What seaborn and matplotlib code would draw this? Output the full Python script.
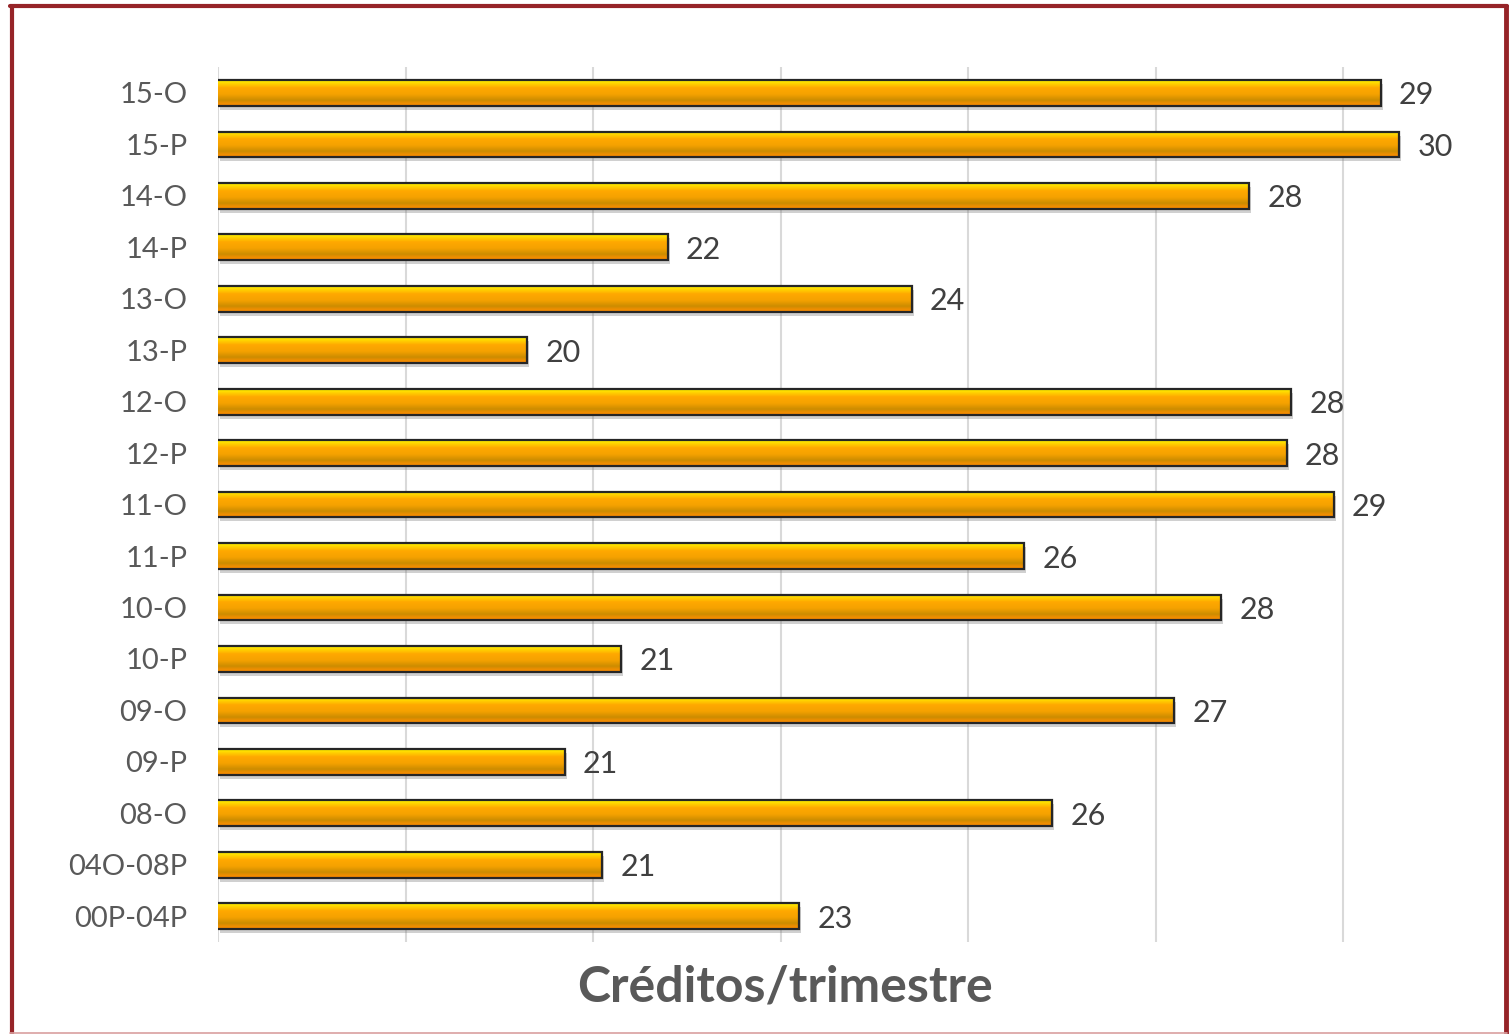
import numpy as np
import pandas as pd
import matplotlib
matplotlib.use('Agg')
import matplotlib.pyplot as plt
import matplotlib.transforms as mtransforms
from matplotlib.colors import LinearSegmentedColormap
from matplotlib.lines import Line2D
from matplotlib.patches import Rectangle
import seaborn as sns

#Data (top to bottom)
periods = ['15-O', '15-P', '14-O', '14-P', '13-O', '13-P', '12-O', '12-P', '11-O',
           '11-P', '10-O', '10-P', '09-O', '09-P', '08-O', '04O-08P', '00P-04P']
creditos = [29.4, 29.6, 28.0, 21.8, 24.4, 20.3, 28.45, 28.4, 28.9,
            25.6, 27.7, 21.3, 27.2, 20.7, 25.9, 21.1, 23.2]
grid_ticks = [17, 19, 21, 23, 25, 27, 29]

df = pd.DataFrame({'Periodo': periods, 'Creditos': creditos})

sns.set_theme(style='white')
plt.rcParams['font.family'] = ['Lato', 'DejaVu Sans']

fig = plt.figure(figsize=(15.1, 10.34), dpi=100)
ax = fig.add_axes([0.1444, 0.089, 0.8456, 0.846])

sns.barplot(data=df, x='Creditos', y='Periodo', orient='h', width=0.5,
            color='#FFA500', ax=ax, zorder=4)

xmin, xmax = 17, 30.62

#Gradient fill and soft shadow for the bars
grad_cmap = LinearSegmentedColormap.from_list('gold', [
    (0.0, '#FFF500'), (0.12, '#FFD400'), (0.3, '#FFA800'), (0.55, '#F5A200'),
    (0.78, '#CC8C00'), (0.9, '#EE8E00'), (1.0, '#FF8C00')])
grad = np.linspace(0, 1, 64).reshape(-1, 1)
shadow_tr = mtransforms.offset_copy(ax.transData, fig=fig, x=2, y=-4, units='dots')
for p in ax.patches:
    x0, y0, w, h = p.get_x(), p.get_y(), p.get_width(), p.get_height()
    ax.add_patch(Rectangle((xmin, y0), x0 + w - xmin, h, transform=shadow_tr,
                           facecolor='#7a7a7a', edgecolor='none', alpha=0.35, zorder=2))
    im = ax.imshow(grad, cmap=grad_cmap, aspect='auto',
                   extent=(xmin, x0 + w, y0 + h, y0), zorder=3, interpolation='bilinear')
    im.set_clip_path(p)
    p.set_facecolor('none')
    p.set_edgecolor('#262626')
    p.set_linewidth(1.6)

ax.set_xlim(xmin, xmax)
ax.set_ylim(len(periods) - 0.5, -0.5)

#Data labels (rounded)
labels = [f'{v:.0f}' for v in creditos]
texts = ax.bar_label(ax.containers[0], labels=labels, padding=13, fontsize=22, color='#404040')
for t in texts:
    t.set_va('center_baseline')

ax.set_xticks(grid_ticks)
ax.set_xticklabels([])
ax.grid(axis='x', color='#D9D9D9', linewidth=1.5, zorder=0)
ax.grid(axis='y', visible=False)
ax.tick_params(axis='both', length=0)
ax.tick_params(axis='y', labelsize=21, labelcolor='#595959', pad=22)
ax.set_xlabel('')
ax.set_ylabel('')
for s in ax.spines.values():
    s.set_visible(False)

fig.text(785 / 1510, 1 - 987 / 1034, 'Créditos/trimestre', ha='center', va='center',
         fontsize=36, fontweight='bold', color='#595959')

#Frame
red = '#962428'
fig.add_artist(Line2D([11.5 / 1510, 11.5 / 1510], [0, 1 - 6 / 1034], color=red, lw=3, transform=fig.transFigure))
fig.add_artist(Line2D([10 / 1510, 1507 / 1510], [1 - 6 / 1034, 1 - 6 / 1034], color=red, lw=3, transform=fig.transFigure))
fig.add_artist(Line2D([1506 / 1510, 1506 / 1510], [0, 1 - 6 / 1034], color=red, lw=3.5, transform=fig.transFigure))
fig.add_artist(Line2D([10 / 1510, 1507 / 1510], [1.5 / 1034, 1.5 / 1034], color='#D9A0A0', lw=1.2, transform=fig.transFigure))

plt.savefig('out.png', dpi=100)
